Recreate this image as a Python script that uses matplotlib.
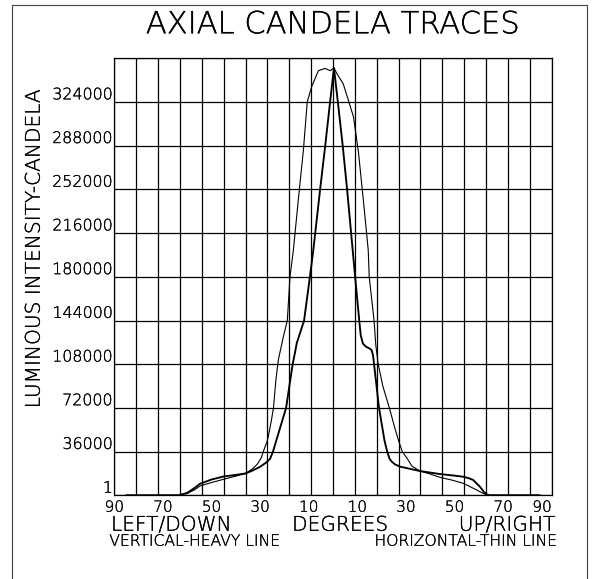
import numpy as np
import matplotlib
matplotlib.use("Agg")
import matplotlib.pyplot as plt
import matplotlib.patheffects as pe
from matplotlib.lines import Line2D

# vertical trace (heavy line), degrees / candela
vert_deg = [-85, -63.5, -60, -57, -54.7, -50, -45, -40, -36, -33, -30, -27.5, -25.9,
            -24.7, -22, -19.3, -16.6, -15.6, -14.9, -13.5, -11.9, -9.5, -8.1, -5.3, -3.2,
            -1.2, 0.4, 2.0, 4.0, 5.8, 8.1, 9.1, 10.8, 11.4, 12.3, 13.5, 15.0, 15.9, 16.5,
            16.9, 18.9, 21.2, 22.3, 23.3, 24.2, 25.5, 27.6, 35.8, 44, 50, 53.6, 56, 57.7,
            59, 60.5, 62, 63.2, 64.5, 85]
vert_cd = [0, 0, 2000, 6000, 9500, 13000, 15500, 16800, 18000, 20500, 23500, 27000, 30000,
           36000, 54000, 72000, 108000, 118000, 125500, 134000, 144000, 180000, 202000, 252000, 288000,
           324000, 352000, 324000, 288000, 252000, 202000, 180000, 144000, 132000, 125000, 122500, 121000, 119500, 115000,
           108000, 72500, 45000, 36000, 30000, 27700, 25500, 23600, 20000, 17500, 16200, 15300, 14000, 12600,
           10000, 7000, 3000, 800, 0, 0]

# horizontal trace (thin line)
horiz_deg = [-85, -63.5, -60, -57, -54.7, -50, -45, -40, -36, -33, -31, -29.5, -28.7,
             -27, -25.5, -24.5, -23.5, -22.5, -20.5, -18.8, -17.7, -16.3, -14.3, -12.2,
             -10.6, -8.8, -6, -3.3, -1.2, 0.4, 2, 4.2, 6.3, 8.4, 10.4, 12.5, 14.5, 14.9,
             16.9, 17.6, 18.6, 20.5, 23.2, 25.5, 27, 28.5, 30.3, 32.5, 35.8, 40, 44, 49,
             53.6, 58, 61.8, 64, 85]
horiz_cd = [0, 0, 1500, 4500, 7700, 10500, 13200, 15800, 18000, 22000, 26000, 31000, 36000,
            45000, 60000, 72000, 95000, 111500, 130000, 144000, 180000, 202000, 243000, 284000,
            324000, 336600, 349800, 351700, 349800, 352000, 346000, 339000, 325600, 312000, 284000, 243000, 202000, 180000,
            144000, 124000, 108000, 90000, 72000, 55000, 45000, 36000, 31000, 24000, 20000, 17500, 14800, 12500,
            9900, 5500, 1600, 0, 0]

y_ticks = [0, 36000, 72000, 108000, 144000, 180000, 216000, 252000, 288000, 324000]
y_tick_labels = ["1", "36000", "72000", "108000", "144000", "180000",
                 "216000", "252000", "288000", "324000"]
x_ticks = [-90, -70, -50, -30, -10, 10, 30, 50, 70, 90]
x_tick_labels = ["90", "70", "50", "30", "10", "10", "30", "50", "70", "90"]

W, H = 593, 579
fig = plt.figure(figsize=(W / 100, H / 100), dpi=100)
plt.rcParams["font.family"] = "DejaVu Sans"
plt.rcParams["font.weight"] = "light"   # ExtraLight file -> thin CAD look
ink = [pe.withStroke(linewidth=0.2, foreground="black")]   # darken the thin strokes a little

def fx(px):
    return px / W

def fy(py):
    return 1 - py / H

# outer frame (bottom edge falls off the picture)
for xs, ys in [([11.7, 11.7], [590, 5]), ([11.7, 587.3], [5, 5]), ([587.3, 587.3], [5, 590])]:
    fig.add_artist(Line2D([fx(x) for x in xs], [fy(y) for y in ys], color="#444444", lw=0.8))

ax = fig.add_axes([fx(114.3), fy(495.3), fx(551.7) - fx(114.3), fy(58.3) - fy(495.3)])
ax.set_xlim(-90, 90)
ax.set_ylim(0, 360000)
for x in np.arange(-90, 91, 9):
    ax.axvline(x, color="black", lw=0.9, zorder=1)
for y in np.arange(0, 360001, 36000):
    ax.axhline(y, color="black", lw=0.9, zorder=1)
for s in ax.spines.values():
    s.set_linewidth(0.9)
ax.set_xticks([])
ax.set_yticks([])

ax.plot(vert_deg, vert_cd, color="black", lw=1.35, zorder=3)
ax.plot(horiz_deg, horiz_cd, color="black", lw=0.8, zorder=3)

# y tick labels sit just above their grid line
for v, lab in zip(y_ticks, y_tick_labels):
    ax.text(-90.6, v + 2200, lab, ha="right", va="baseline", fontsize=11.4, path_effects=ink)

for i, (v, lab) in enumerate(zip(x_ticks, x_tick_labels)):
    ha = "right" if i == len(x_ticks) - 1 else "center"
    ax.text(v, -13500, lab, ha=ha, va="baseline", fontsize=11, path_effects=ink)

fig.text(fx(332.5), fy(33.3), "AXIAL CANDELA TRACES", ha="center", va="baseline",
         fontsize=22, path_effects=ink)
fig.text(fx(34.2), fy(249.3), "LUMINOUS INTENSITY-CANDELA", rotation=90,
         ha="center", va="center", fontsize=14.5, path_effects=ink)

fig.text(fx(111), fy(530.7), "LEFT/DOWN", ha="left", va="baseline", fontsize=14.5, path_effects=ink)
fig.text(fx(340), fy(530.7), "DEGREES", ha="center", va="baseline", fontsize=14.5, path_effects=ink)
fig.text(fx(555), fy(530.7), "UP/RIGHT", ha="right", va="baseline", fontsize=14.5, path_effects=ink)
fig.text(fx(109.3), fy(545.7), "VERTICAL-HEAVY LINE", ha="left", va="baseline",
         fontsize=11.2, path_effects=ink)
fig.text(fx(556), fy(545.7), "HORIZONTAL-THIN LINE", ha="right", va="baseline",
         fontsize=11.2, path_effects=ink)

fig.savefig("out.png", dpi=100)
